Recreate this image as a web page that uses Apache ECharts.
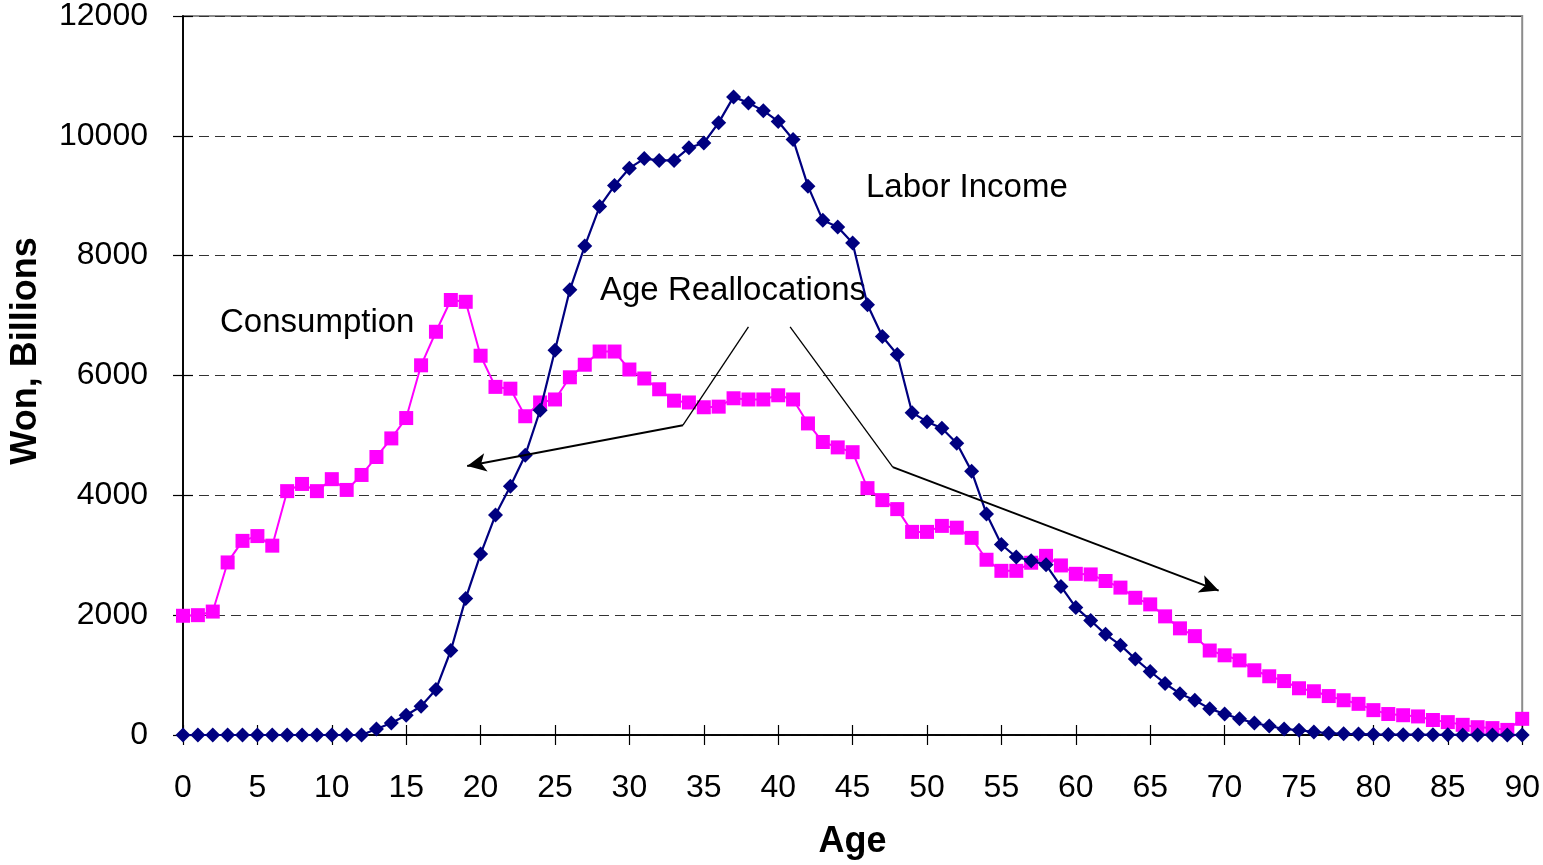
<!DOCTYPE html>
<html>
<head>
<meta charset="utf-8">
<script src="https://cdn.jsdelivr.net/npm/echarts@6/dist/echarts.min.js"></script>
<style>
  html, body { margin: 0; padding: 0; background: #fff; overflow: hidden; }
  #chart { width: 100vw; height: 100vh; }
</style>
</head>
<body>
<div id="chart"></div>
<script>
  // ages 0..90
  const ages = Array.from({ length: 91 }, (_, i) => i);

  const consumption = [
    1990, 2000, 2060, 2880, 3240, 3320, 3160, 4070, 4190, 4070,
    4270, 4090, 4340, 4640, 4950, 5290, 6170, 6730, 7260, 7230,
    6330, 5810, 5780, 5320, 5550, 5600, 5970, 6180, 6400, 6400,
    6100, 5950, 5770, 5580, 5550, 5470, 5480, 5620, 5600, 5600,
    5670, 5600, 5200, 4890, 4800, 4720, 4120, 3920, 3770, 3390,
    3390, 3490, 3460, 3290, 2925, 2740, 2740, 2875, 2990, 2830,
    2690, 2680, 2570, 2460, 2290, 2180, 1980, 1780, 1650, 1410,
    1330, 1245, 1080, 980, 900, 780, 730, 650, 580, 520,
    415, 350, 330, 310, 250, 215, 170, 130, 115, 85,
    270
  ];

  const laborIncome = [
    0, 0, 0, 0, 0, 0, 0, 0, 0, 0,
    0, 0, 0, 100, 200, 330, 480, 760, 1410, 2280,
    3020, 3670, 4150, 4670, 5420, 6420, 7430, 8160, 8820, 9170,
    9460, 9620, 9590, 9590, 9800, 9880, 10220, 10650, 10550, 10420,
    10240, 9940, 9160, 8590, 8480, 8210, 7180, 6650, 6350, 5380,
    5230, 5120, 4870, 4400, 3690, 3180, 2970, 2910, 2840, 2480,
    2130, 1910, 1680, 1500, 1270, 1060, 860, 690, 580, 440,
    350, 270, 200, 150, 100, 80, 50, 30, 20, 15,
    10, 8, 5, 5, 3, 3, 2, 2, 1, 1,
    0
  ];

  // "Age Reallocations" arrows, in [age, won] space
  const arrowToYoung = [[38.0, 6810], [33.6, 5170], [19.1, 4490]];
  const arrowToOld = [[40.8, 6810], [47.7, 4470], [69.6, 2410]];

  const chart = echarts.init(document.getElementById('chart'));
  const FONT = 'Liberation Sans, Arial, sans-serif';

  function pairs(vals) {
    return ages.map((a, i) => [a, vals[i]]);
  }

  function arrowSegments(pts) {
    const segs = [];
    for (let i = 0; i < pts.length - 1; i++) {
      const last = i === pts.length - 2;
      segs.push([
        { coord: pts[i], symbol: 'none', lineStyle: { width: last ? 2 : 1.3 } },
        { coord: pts[i + 1], symbol: last ? 'arrow' : 'none', symbolSize: [14, 19] }
      ]);
    }
    return segs;
  }

  const xBase = {
    type: 'value', min: 0, max: 90, interval: 5,
    axisLine: { onZero: false, lineStyle: { color: '#000', width: 1.5 } },
    splitLine: { show: false }
  };
  const yBase = {
    type: 'value', min: 0, max: 12000, interval: 2000,
    axisLine: { show: true, onZero: false, lineStyle: { color: '#000', width: 1.5 } }
  };

  const option = {
    animation: false,
    backgroundColor: '#fff',
    grid: {
      left: 183, right: 16, top: 16, bottom: 127,
      show: true, borderColor: '#8c8c8c', borderWidth: 2
    },
    xAxis: [
      Object.assign({}, xBase, {
        position: 'bottom',
        name: 'Age',
        nameLocation: 'middle',
        nameGap: 89,
        nameTextStyle: { fontFamily: FONT, fontSize: 36, fontWeight: 'bold', color: '#000' },
        axisTick: { length: 10, lineStyle: { color: '#000', width: 1.2 } },
        axisLabel: { fontFamily: FONT, fontSize: 32, color: '#000', margin: 37 }
      }),
      Object.assign({}, xBase, {
        position: 'bottom',
        axisTick: { inside: true, length: 10, lineStyle: { color: '#000', width: 1.2 } },
        axisLabel: { show: false }
      })
    ],
    yAxis: [
      Object.assign({}, yBase, {
        position: 'left',
        axisTick: { show: true, length: 10, lineStyle: { color: '#000', width: 1.2 } },
        axisLabel: {
          fontFamily: FONT, fontSize: 32, color: '#000', margin: 35,
          formatter: (v) => String(v)
        },
        splitLine: { show: true, lineStyle: { color: '#333', width: 1.2, type: [10, 6] } }
      }),
      Object.assign({}, yBase, {
        position: 'left',
        axisTick: { show: true, inside: true, length: 10, lineStyle: { color: '#000', width: 1.2 } },
        axisLabel: { show: false },
        splitLine: { show: false }
      })
    ],
    graphic: [
      {
        type: 'text', x: 26, y: 351, rotation: Math.PI / 2,
        style: {
          text: 'Won, Billions', font: 'bold 36px ' + FONT, fill: '#000',
          align: 'center', verticalAlign: 'middle'
        }
      },
      { type: 'text', left: 220, top: 306, style: { text: 'Consumption', font: '33px ' + FONT, fill: '#000' } },
      { type: 'text', left: 600, top: 274, style: { text: 'Age Reallocations', font: '33px ' + FONT, fill: '#000' } },
      { type: 'text', left: 866, top: 171, style: { text: 'Labor Income', font: '33px ' + FONT, fill: '#000' } }
    ],
    series: [
      {
        name: 'Consumption',
        type: 'line',
        data: pairs(consumption),
        symbol: 'rect',
        symbolSize: 14,
        itemStyle: { color: '#ff00ff' },
        lineStyle: { color: '#ff00ff', width: 2 },
        z: 3
      },
      {
        name: 'Labor Income',
        type: 'line',
        data: pairs(laborIncome),
        symbol: 'diamond',
        symbolSize: 15,
        itemStyle: { color: '#000080' },
        lineStyle: { color: '#000080', width: 2.2 },
        z: 4
      },
      {
        name: 'Age Reallocations',
        type: 'line',
        data: [],
        z: 5,
        markLine: {
          silent: true,
          animation: false,
          label: { show: false },
          lineStyle: { color: '#000', width: 1.6, type: 'solid' },
          data: arrowSegments(arrowToYoung).concat(arrowSegments(arrowToOld))
        }
      }
    ]
  };

  chart.setOption(option);
</script>
</body>
</html>
